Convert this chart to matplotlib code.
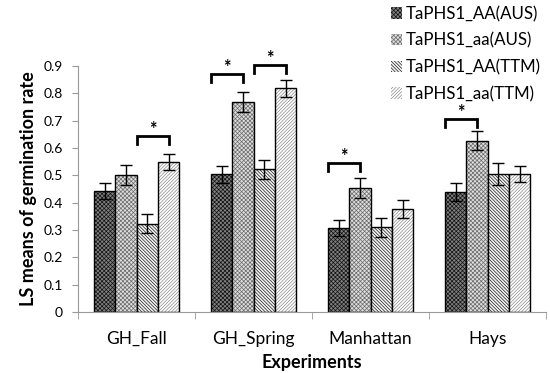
import numpy as np
import matplotlib
matplotlib.use("Agg")
import matplotlib.pyplot as plt
from matplotlib.patches import Patch

plt.rcParams['font.family'] = ['Lato', 'DejaVu Sans']
plt.rcParams['hatch.linewidth'] = 0.5

experiments = ['GH_Fall', 'GH_Spring', 'Manhattan', 'Hays']
series = ['TaPHS1_AA(AUS)', 'TaPHS1_aa(AUS)', 'TaPHS1_AA(TTM)', 'TaPHS1_aa(TTM)']
means = [
    [0.443, 0.501, 0.323, 0.549],
    [0.504, 0.769, 0.522, 0.818],
    [0.306, 0.452, 0.310, 0.377],
    [0.438, 0.627, 0.505, 0.505],
]
errors = [
    [0.030, 0.038, 0.035, 0.030],
    [0.031, 0.037, 0.035, 0.030],
    [0.030, 0.037, 0.035, 0.033],
    [0.033, 0.036, 0.039, 0.029],
]
# (experiment, first bar, second bar, bracket top)
brackets = [
    (0, 2, 3, 0.644),
    (1, 0, 1, 0.870),
    (1, 2, 3, 0.904),
    (2, 0, 1, 0.545),
    (3, 0, 1, 0.706),
]

faces = ['#808080', '#dedede', '#f4f4f4', '#ffffff']
hatch_cols = ['#111111', '#6a6a6a', '#1a1a1a', '#8a8a8a']
hatches = ['x' * 8, 'x' * 8, '\\' * 10, '/' * 10]

fig = plt.figure(figsize=(5.5, 3.73), dpi=100)
ax = fig.add_axes([0.142, 0.164, 0.851, 0.659])

width = 0.182
x = np.arange(len(experiments))
m = np.array(means)
e = np.array(errors)
for i in range(len(series)):
    pos = x + (i - 1.5) * width
    ax.bar(pos, m[:, i], width, color=faces[i], edgecolor=hatch_cols[i],
           hatch=hatches[i], linewidth=0)
    ax.bar(pos, m[:, i], width, color='none', edgecolor='black', linewidth=1.0)
    ax.errorbar(pos, m[:, i], yerr=e[:, i], fmt='none', ecolor='black',
                elinewidth=1.0, capsize=4, capthick=1.0)

for g, a, b, top in brackets:
    x0 = x[g] + (a - 1.5) * width - width / 2
    x1 = x[g] + (b - 1.5) * width
    ax.plot([x0, x0, x1, x1], [top - 0.03, top, top, top - 0.03],
            color='black', lw=2.0, clip_on=False, solid_joinstyle='miter')
    ax.text((x0 + x1) / 2, top - 0.006, '*', ha='center', va='bottom',
            fontsize=13, fontweight='bold', clip_on=False)

ax.set_xlim(-0.5, 3.5)
ax.set_ylim(0, 0.9)
ax.set_yticks(np.arange(0, 0.91, 0.1))
ax.set_yticklabels(['0'] + ['%.1f' % v for v in np.arange(0.1, 0.91, 0.1)])
ax.set_xticks(x)
ax.set_xticklabels(experiments, fontsize=12.5)
ax.set_xticks(np.arange(-0.5, 4, 1), minor=True)
ax.tick_params(axis='x', which='major', length=0, pad=14)
ax.tick_params(axis='x', which='minor', length=5, color='#999999')
ax.tick_params(axis='y', length=4, color='#999999', labelsize=10, pad=7)

for s in ['top', 'right']:
    ax.spines[s].set_visible(False)
ax.spines['left'].set_color('#999999')
ax.spines['bottom'].set_color('#999999')

ax.set_ylabel('LS means of germination rate', fontsize=13, fontweight='bold',
              labelpad=5)
ax.set_xlabel('Experiments', fontsize=13, fontweight='bold', labelpad=5)

handles = [Patch(facecolor=faces[i], edgecolor=hatch_cols[i], hatch=hatches[i],
                 linewidth=0) for i in range(len(series))]
fig.legend(handles, series, loc='upper left', bbox_to_anchor=(0.683, 1.025),
           frameon=False, fontsize=12.2, handlelength=0.65, handleheight=0.65,
           handletextpad=0.2, labelspacing=0.62)

fig.savefig('out.png', dpi=100)
